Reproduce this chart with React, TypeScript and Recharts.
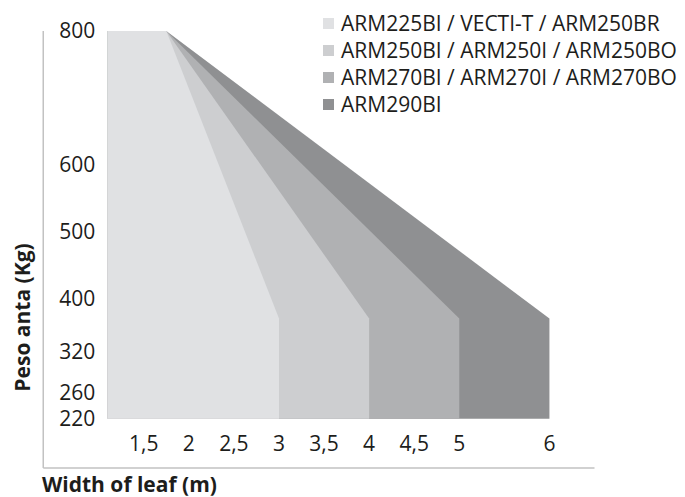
import { Area, ComposedChart, Legend, XAxis, YAxis } from 'recharts';

// Max leaf weight (kg) against leaf width (m), one shaded area per motor family.
const seriesNames = [
  'ARM225BI / VECTI-T / ARM250BR',
  'ARM250BI / ARM250I / ARM250BO',
  'ARM270BI / ARM270I / ARM270BO',
  'ARM290BI',
];
const seriesColors = ['#e0e1e3', '#cdced0', '#b0b1b3', '#8f9092'];

// widest leaf each family can move (m)
const maxWidths = [3, 4, 5, 6];
// every family starts at the same corner
const minWidth = 1.1;
const shoulderWidth = 1.75;
const peakWeight = 800;
const endWeight = 370;
const baseWeight = 220;

const xTicks = [1.5, 2, 2.5, 3, 3.5, 4, 4.5, 5, 6];
const yTicks = [220, 260, 320, 400, 500, 600, 800];

const INK = '#1d1d1b';
const AXIS = '#c2c2c2';
const FONT = "'Open Sans', sans-serif";

function seriesData(i: number) {
  return [
    { w: minWidth, kg: peakWeight },
    { w: shoulderWidth, kg: peakWeight },
    { w: maxWidths[i], kg: endWeight },
  ];
}

function LegendBox() {
  return (
    <div style={{ fontFamily: FONT, fontSize: 21, color: INK }}>
      {seriesNames.map((name, i) => (
        <div key={name} style={{ display: 'flex', alignItems: 'center', height: 27, whiteSpace: 'nowrap' }}>
          <span
            style={{ display: 'inline-block', width: 11, height: 11, marginRight: 7, background: seriesColors[i] }}
          />
          <span>{name}</span>
        </div>
      ))}
    </div>
  );
}

export default function App() {
  // darkest (widest) family drawn first so the lighter ones sit on top
  const order = [3, 2, 1, 0];
  return (
    <div style={{ position: 'absolute', left: 0, top: 0, width: 685, height: 497, fontFamily: FONT }}>
      <ComposedChart width={685} height={497} margin={{ top: 31, right: 90.5, bottom: 29, left: 43.25 }}>
        <XAxis
          type="number"
          dataKey="w"
          domain={[0.385, 6.5]}
          allowDataOverflow
          ticks={xTicks}
          interval={0}
          mirror
          height={1}
          tickSize={0}
          tickLine={false}
          tickMargin={17}
          axisLine={{ stroke: AXIS, strokeWidth: 1.5 }}
          tick={{ fontSize: 21, fill: INK, fontFamily: FONT }}
          tickFormatter={(v: number) => String(v).replace('.', ',')}
        />
        <YAxis
          type="number"
          domain={[146.5, 800]}
          allowDataOverflow
          ticks={yTicks}
          interval={0}
          mirror
          width={1}
          tickSize={0}
          tickLine={false}
          tickMargin={16}
          axisLine={{ stroke: AXIS, strokeWidth: 1.5 }}
          tick={{ fontSize: 21, fill: INK, fontFamily: FONT }}
        />
        {order.map((i) => (
          <Area
            key={seriesNames[i]}
            name={seriesNames[i]}
            data={seriesData(i)}
            dataKey="kg"
            type="linear"
            baseValue={baseWeight}
            stroke="none"
            fill={seriesColors[i]}
            fillOpacity={1}
            dot={false}
            activeDot={false}
            isAnimationActive={false}
          />
        ))}
        <Legend
          layout="vertical"
          align="center"
          verticalAlign="middle"
          wrapperStyle={{ left: 323, top: 9.5, width: 362 }}
          content={() => <LegendBox />}
        />
        <text
          x={30}
          y={317.5}
          transform="rotate(-90, 30, 317.5)"
          textAnchor="middle"
          fontFamily={FONT}
          fontSize={21}
          fontWeight={700}
          fill={INK}
        >
          Peso anta (Kg)
        </text>
        <text x={42} y={492} fontFamily={FONT} fontSize={21} fontWeight={700} fill={INK}>
          Width of leaf (m)
        </text>
      </ComposedChart>
    </div>
  );
}
